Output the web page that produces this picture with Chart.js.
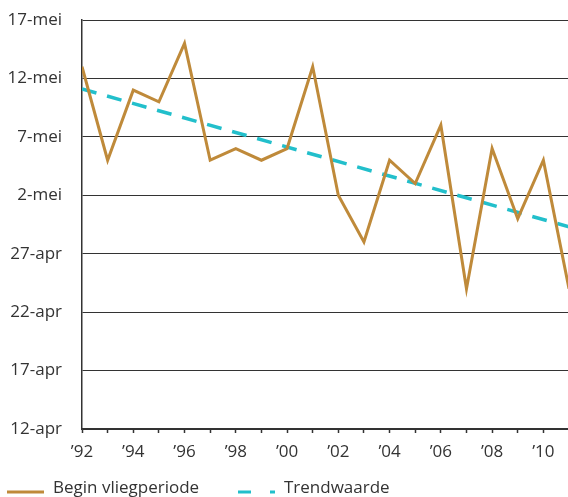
<!DOCTYPE html>
<html>
<head>
<meta charset="utf-8">
<script src="https://cdn.jsdelivr.net/npm/chart.js@4/dist/chart.umd.min.js"></script>
<style>
  html, body { margin: 0; padding: 0; background: #fff; overflow: hidden; }
</style>
</head>
<body>
<canvas id="grafiek" width="578" height="497"></canvas>
<script>
// begin vliegperiode per jaar, in dagen na 12 april
const jaren = [1992, 1993, 1994, 1995, 1996, 1997, 1998, 1999, 2000, 2001,
               2002, 2003, 2004, 2005, 2006, 2007, 2008, 2009, 2010, 2011];
const beginVlieg = [31, 23, 29, 28, 33, 23, 24, 23, 24, 31,
                    20, 16, 23, 21, 26, 12, 24, 18, 23, 12];
const trendJaren = [1992, 2011];
const trendWaarde = [29.1, 17.3];
const yLabels = ['12-apr', '17-apr', '22-apr', '27-apr', '2-mei', '7-mei', '12-mei', '17-mei'];
const xLabels = ['’92', '', '’94', '', '’96', '', '’98', '', '’00', '',
                 '’02', '', '’04', '', '’06', '', '’08', '', '’10', ''];

const tekstKleur = '#333333';
Chart.defaults.font.family = '"Open Sans", "Noto Sans", sans-serif';
Chart.defaults.font.size = 17;
Chart.defaults.color = tekstKleur;

// eigen legenda onderaan
const legenda = {
    id: 'legenda',
    afterDraw(chart) {
        const ctx = chart.ctx;
        const plekken = [{ x: 7, dash: [] }, { x: 238, dash: [13, 19] }];
        chart.data.datasets.forEach(function (ds, i) {
            const p = plekken[i];
            ctx.save();
            ctx.strokeStyle = ds.borderColor;
            ctx.lineWidth = 3;
            ctx.setLineDash(p.dash);
            ctx.beginPath();
            ctx.moveTo(p.x, 492);
            ctx.lineTo(p.x + 37, 492);
            ctx.stroke();
            ctx.setLineDash([]);
            ctx.fillStyle = tekstKleur;
            ctx.font = '17px "Open Sans", "Noto Sans", sans-serif';
            ctx.textBaseline = 'alphabetic';
            ctx.textAlign = 'left';
            ctx.fillText(ds.label, p.x + 46, 493);
            ctx.restore();
        });
    }
};

const ctx = document.getElementById('grafiek').getContext('2d');
new Chart(ctx, {
    type: 'line',
    data: {
        datasets: [{
            label: 'Begin vliegperiode',
            data: jaren.map((j, i) => ({ x: j, y: beginVlieg[i] })),
            borderColor: '#BF8A3A',
            borderWidth: 3,
            pointRadius: 0,
            tension: 0
        }, {
            label: 'Trendwaarde',
            data: trendJaren.map((j, i) => ({ x: j, y: trendWaarde[i] })),
            borderColor: '#22BFCB',
            borderWidth: 3.5,
            borderDash: [15, 11],
            pointRadius: 0,
            tension: 0
        }]
    },
    options: {
        responsive: false,
        animation: false,
        layout: { padding: { top: 20, bottom: 28, left: 0, right: 1 } },
        plugins: {
            legend: { display: false },
            tooltip: { enabled: false }
        },
        scales: {
            x: {
                type: 'linear',
                min: 1992,
                max: 2011,
                afterFit: function (s) { s.height = 40; },
                grid: {
                    drawOnChartArea: false,
                    drawTicks: true,
                    tickLength: 4,
                    tickColor: '#333',
                    tickWidth: 1.5
                },
                border: { color: '#333', width: 1.5 },
                ticks: {
                    stepSize: 1,
                    autoSkip: false,
                    maxRotation: 0,
                    padding: 9,
                    callback: function (v) {
                        const i = jaren.indexOf(v);
                        return i >= 0 ? xLabels[i] : '';
                    }
                }
            },
            y: {
                min: 0,
                max: 35,
                afterFit: function (s) {
                    s.width = 82;
                    s.paddingTop = 0;
                    s.paddingBottom = 0;
                },
                grid: { color: '#333', lineWidth: 1, drawTicks: false },
                border: { color: '#333', width: 1.5 },
                ticks: {
                    stepSize: 5,
                    padding: 20,
                    callback: function (v) { return yLabels[v / 5]; }
                }
            }
        }
    },
    plugins: [legenda]
});
</script>
</body>
</html>
